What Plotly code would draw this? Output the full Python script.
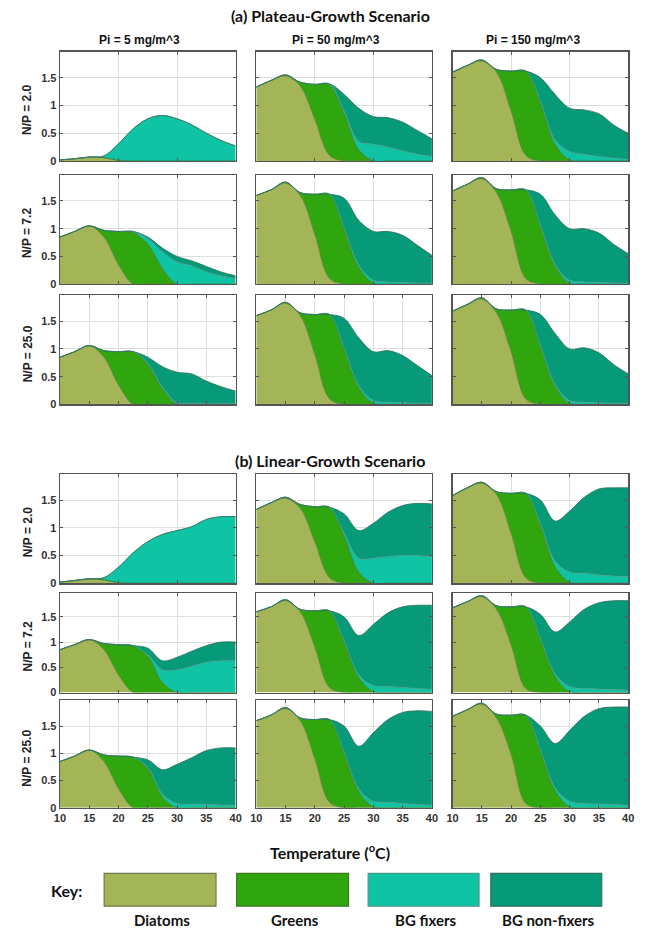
import plotly.graph_objects as go

# ---------------- data ----------------
TEMPERATURE = [10, 12.5, 15, 17.5, 20, 22.5, 25, 27.5, 30, 32.5, 35, 37.5, 40]
PI_LABELS = ["Pi = 5 mg/m^3", "Pi = 50 mg/m^3", "Pi = 150 mg/m^3"]
NP_LABELS = ["N/P = 2.0", "N/P = 7.2", "N/P = 25.0"]
SCENARIOS = ["(a) Plateau-Growth Scenario", "(b) Linear-Growth Scenario"]
SPECIES = ["Diatoms", "Greens", "BG fixers", "BG non-fixers"]
X_TICKS = [10, 15, 20, 25, 30, 35, 40]
Y_TICKS = [0, 0.5, 1, 1.5]
Y_TICK_TEXT = ["0", "0.5", "1", "1.5"]

# panels in order r1c1, r1c2, r1c3, r2c1, ... (rows = N/P, cols = Pi)
A_DIATOMS = [
    [0.02, 0.04, 0.07, 0.06, 0.01, 0, 0, 0, 0, 0, 0, 0, 0],
    [1.33, 1.45, 1.53, 1.35, 0.75, 0.1, 0, 0, 0, 0, 0, 0, 0],
    [1.6, 1.72, 1.8, 1.6, 0.9, 0.1, 0, 0, 0, 0, 0, 0, 0],
    [0.85, 0.95, 1.05, 0.85, 0.35, 0, 0, 0, 0, 0, 0, 0, 0],
    [1.6, 1.7, 1.82, 1.6, 0.9, 0.1, 0, 0, 0, 0, 0, 0, 0],
    [1.68, 1.8, 1.9, 1.65, 0.95, 0.1, 0, 0, 0, 0, 0, 0, 0],
    [0.85, 0.95, 1.06, 0.85, 0.35, 0, 0, 0, 0, 0, 0, 0, 0],
    [1.6, 1.7, 1.82, 1.6, 0.9, 0.1, 0, 0, 0, 0, 0, 0, 0],
    [1.68, 1.8, 1.9, 1.65, 0.95, 0.1, 0, 0, 0, 0, 0, 0, 0],
]
A_GREENS = [
    [0, 0, 0, 0, 0, 0, 0, 0, 0, 0, 0, 0, 0],
    [0, 0, 0.02, 0.07, 0.63, 1.27, 0.85, 0.2, 0, 0, 0, 0, 0],
    [0, 0, 0.02, 0.05, 0.72, 1.52, 1.05, 0.3, 0.02, 0, 0, 0, 0],
    [0, 0, 0, 0.12, 0.6, 0.93, 0.72, 0.28, 0, 0, 0, 0, 0],
    [0, 0, 0.02, 0.05, 0.72, 1.52, 1.0, 0.3, 0.02, 0, 0, 0, 0],
    [0, 0, 0.02, 0.07, 0.75, 1.6, 1.05, 0.32, 0.02, 0, 0, 0, 0],
    [0, 0, 0, 0.12, 0.6, 0.95, 0.72, 0.28, 0, 0, 0, 0, 0],
    [0, 0, 0.02, 0.05, 0.72, 1.52, 1.0, 0.3, 0.02, 0, 0, 0, 0],
    [0, 0, 0.02, 0.07, 0.75, 1.6, 1.05, 0.32, 0.02, 0, 0, 0, 0],
]
A_FIXERS = [
    [0, 0, 0, 0.03, 0.3, 0.58, 0.76, 0.82, 0.76, 0.65, 0.5, 0.37, 0.27],
    [0, 0, 0, 0, 0, 0.02, 0.05, 0.15, 0.3, 0.25, 0.18, 0.12, 0.08],
    [0, 0, 0, 0, 0, 0, 0.03, 0.08, 0.15, 0.12, 0.08, 0.05, 0.03],
    [0, 0, 0, 0, 0, 0.02, 0.1, 0.3, 0.4, 0.33, 0.22, 0.15, 0.1],
    [0, 0, 0, 0, 0, 0, 0.02, 0.04, 0.05, 0.04, 0.03, 0.02, 0.02],
    [0, 0, 0, 0, 0, 0, 0.02, 0.04, 0.05, 0.04, 0.03, 0.02, 0.02],
    [0, 0, 0, 0, 0, 0, 0.02, 0.03, 0.03, 0.02, 0.01, 0.01, 0.01],
    [0, 0, 0, 0, 0, 0, 0.02, 0.04, 0.05, 0.04, 0.03, 0.02, 0.02],
    [0, 0, 0, 0, 0, 0, 0.02, 0.04, 0.05, 0.04, 0.03, 0.02, 0.02],
]
A_NONFIXERS = [
    [0, 0, 0, 0, 0, 0, 0, 0, 0, 0, 0, 0, 0],
    [0, 0, 0, 0, 0, 0, 0.3, 0.6, 0.5, 0.53, 0.52, 0.43, 0.32],
    [0, 0, 0, 0, 0, 0, 0.42, 0.82, 0.78, 0.8, 0.77, 0.6, 0.47],
    [0, 0, 0, 0, 0, 0, 0.03, 0.07, 0.1, 0.09, 0.1, 0.07, 0.05],
    [0, 0, 0, 0, 0, 0, 0.53, 0.81, 0.88, 0.91, 0.85, 0.68, 0.5],
    [0, 0, 0, 0, 0, 0, 0.55, 0.89, 0.93, 0.96, 0.89, 0.7, 0.53],
    [0, 0, 0, 0, 0, 0, 0.11, 0.37, 0.55, 0.53, 0.41, 0.31, 0.23],
    [0, 0, 0, 0, 0, 0, 0.53, 0.86, 0.88, 0.93, 0.85, 0.68, 0.5],
    [0, 0, 0, 0, 0, 0, 0.55, 0.92, 0.93, 0.98, 0.9, 0.7, 0.53],
]

B_DIATOMS = [
    [0.02, 0.05, 0.08, 0.06, 0.01, 0, 0, 0, 0, 0, 0, 0, 0],
    [1.33, 1.45, 1.53, 1.35, 0.75, 0.1, 0, 0, 0, 0, 0, 0, 0],
    [1.58, 1.72, 1.8, 1.6, 0.9, 0.1, 0, 0, 0, 0, 0, 0, 0],
    [0.85, 0.95, 1.05, 0.85, 0.35, 0, 0, 0, 0, 0, 0, 0, 0],
    [1.6, 1.7, 1.82, 1.6, 0.9, 0.1, 0, 0, 0, 0, 0, 0, 0],
    [1.68, 1.8, 1.9, 1.65, 0.95, 0.08, 0, 0, 0, 0, 0, 0, 0],
    [0.85, 0.95, 1.06, 0.85, 0.35, 0, 0, 0, 0, 0, 0, 0, 0],
    [1.6, 1.7, 1.82, 1.6, 0.9, 0.1, 0, 0, 0, 0, 0, 0, 0],
    [1.68, 1.8, 1.9, 1.65, 0.98, 0.08, 0, 0, 0, 0, 0, 0, 0],
]
B_GREENS = [
    [0, 0, 0, 0, 0, 0, 0, 0, 0, 0, 0, 0, 0],
    [0, 0, 0.02, 0.07, 0.63, 1.27, 0.85, 0.2, 0, 0, 0, 0, 0],
    [0, 0, 0.02, 0.05, 0.72, 1.52, 1.05, 0.3, 0.02, 0, 0, 0, 0],
    [0, 0, 0, 0.12, 0.6, 0.93, 0.72, 0.2, 0, 0, 0, 0, 0],
    [0, 0, 0.02, 0.05, 0.72, 1.52, 1.0, 0.3, 0.02, 0, 0, 0, 0],
    [0, 0, 0.02, 0.07, 0.75, 1.62, 1.05, 0.32, 0.02, 0, 0, 0, 0],
    [0, 0, 0, 0.12, 0.6, 0.93, 0.72, 0.2, 0, 0, 0, 0, 0],
    [0, 0, 0.02, 0.05, 0.72, 1.52, 1.0, 0.3, 0.02, 0, 0, 0, 0],
    [0, 0, 0.02, 0.07, 0.72, 1.62, 1.05, 0.32, 0.02, 0, 0, 0, 0],
]
B_FIXERS = [
    [0, 0, 0, 0.04, 0.28, 0.55, 0.75, 0.88, 0.95, 1.02, 1.15, 1.2, 1.2],
    [0, 0, 0, 0, 0, 0, 0.05, 0.25, 0.45, 0.48, 0.5, 0.5, 0.48],
    [0, 0, 0, 0, 0, 0, 0.03, 0.1, 0.18, 0.18, 0.15, 0.13, 0.12],
    [0, 0, 0, 0, 0, 0, 0.03, 0.25, 0.45, 0.52, 0.6, 0.63, 0.63],
    [0, 0, 0, 0, 0, 0, 0.02, 0.05, 0.12, 0.12, 0.1, 0.08, 0.07],
    [0, 0, 0, 0, 0, 0, 0.02, 0.05, 0.1, 0.08, 0.07, 0.06, 0.05],
    [0, 0, 0, 0, 0, 0, 0.02, 0.05, 0.08, 0.07, 0.06, 0.05, 0.05],
    [0, 0, 0, 0, 0, 0, 0.02, 0.05, 0.1, 0.1, 0.08, 0.06, 0.05],
    [0, 0, 0, 0, 0, 0, 0.02, 0.05, 0.1, 0.08, 0.07, 0.06, 0.05],
]
B_NONFIXERS = [
    [0, 0, 0, 0, 0, 0, 0, 0, 0, 0, 0, 0, 0],
    [0, 0, 0, 0, 0, 0, 0.35, 0.5, 0.63, 0.8, 0.9, 0.94, 0.95],
    [0, 0, 0, 0, 0, 0, 0.42, 0.72, 1.1, 1.37, 1.55, 1.59, 1.6],
    [0, 0, 0, 0, 0, 0, 0.13, 0.18, 0.25, 0.3, 0.33, 0.37, 0.37],
    [0, 0, 0, 0, 0, 0, 0.48, 0.78, 1.21, 1.46, 1.6, 1.65, 1.66],
    [0, 0, 0, 0, 0, 0, 0.48, 0.83, 1.28, 1.57, 1.71, 1.76, 1.77],
    [0, 0, 0, 0, 0, 0, 0.14, 0.45, 0.72, 0.85, 0.99, 1.05, 1.05],
    [0, 0, 0, 0, 0, 0, 0.48, 0.78, 1.26, 1.52, 1.67, 1.72, 1.72],
    [0, 0, 0, 0, 0, 0, 0.43, 0.81, 1.3, 1.6, 1.75, 1.79, 1.8],
]

# ---------------- style ----------------
W, H = 646, 938
FILL = ["#a3b557", "#2fa50e", "#0fc3a5", "#069a78"]
EDGE = ["#6e7a48", "#3f7a22", "#4a9a8a", "#2f6e5e"]
COL_PX = [(55, 234), (255, 434), (455, 634)]
ROW_PX = [[(52, 162), (176, 286), (297, 407)],
          [(477, 587), (597, 697), (705, 813)]]
TICK_FONT = dict(family="Liberation Sans", size=11, color="#333333", weight="bold")
GRID = "#dedede"


def px_x(p):
    return p / W


def px_y(p):
    return 1 - p / H


fig = go.Figure()
layout_axes = {}
data_sets = [
    [A_DIATOMS, A_GREENS, A_FIXERS, A_NONFIXERS],
    [B_DIATOMS, B_GREENS, B_FIXERS, B_NONFIXERS],
]

k = 0
for s in range(2):
    for r in range(3):
        for c in range(3):
            k += 1
            idx = r * 3 + c
            xa = "x" if k == 1 else f"x{k}"
            ya = "y" if k == 1 else f"y{k}"
            for sp in range(4):
                fig.add_trace(go.Scatter(
                    x=TEMPERATURE, y=data_sets[s][sp][idx],
                    xaxis=xa, yaxis=ya, stackgroup=f"g{k}",
                    mode="lines", name=SPECIES[sp], showlegend=False,
                    line=dict(color=EDGE[sp], width=0.8, shape="spline", smoothing=1.0),
                    fillcolor=FILL[sp], hoverinfo="skip",
                ))
            x0, x1 = COL_PX[c]
            y0, y1 = ROW_PX[s][r]
            bottom = (s == 1 and r == 2)
            grid_x = X_TICKS if r == 2 else [20, 30]
            xkey = "xaxis" if k == 1 else f"xaxis{k}"
            ykey = "yaxis" if k == 1 else f"yaxis{k}"
            layout_axes[xkey] = dict(
                domain=[px_x(x0), px_x(x1)], anchor=ya, range=[10, 40],
                tickvals=X_TICKS if bottom else grid_x,
                showticklabels=bottom, tickfont=TICK_FONT, ticklabeloverflow="allow",
                showgrid=True, gridcolor=GRID, gridwidth=1, zeroline=False,
                showline=True, mirror="ticks", linecolor="#555555", linewidth=1.3,
                ticks="inside", ticklen=3, tickcolor="#555555",
            )
            layout_axes[ykey] = dict(
                domain=[px_y(y1), px_y(y0)], anchor=xa, range=[0, 1.97],
                tickvals=Y_TICKS, ticktext=Y_TICK_TEXT,
                showticklabels=(c == 0), tickfont=TICK_FONT, ticklabeloverflow="allow",
                showgrid=True, gridcolor=GRID, gridwidth=1, zeroline=False,
                showline=True, mirror="ticks", linecolor="#555555", linewidth=1.3,
                ticks="inside", ticklen=3, tickcolor="#555555",
            )

annotations = []
TITLE_FONT = dict(family="Lato", size=16, color="#111111", weight="bold")
annotations.append(dict(text=SCENARIOS[0], x=px_x(331), y=px_y(16), xref="paper", yref="paper",
                        showarrow=False, font=TITLE_FONT, xanchor="center", yanchor="middle"))
annotations.append(dict(text=SCENARIOS[1], x=px_x(330), y=px_y(463), xref="paper", yref="paper",
                        showarrow=False, font=TITLE_FONT, xanchor="center", yanchor="middle"))
for c in range(3):
    cx = (COL_PX[c][0] + COL_PX[c][1]) / 2 - 8
    annotations.append(dict(text=PI_LABELS[c], x=px_x(cx), y=px_y(40), xref="paper", yref="paper",
                            showarrow=False, xanchor="center", yanchor="middle",
                            font=dict(family="Liberation Sans", size=12, color="#111111", weight="bold")))
for s in range(2):
    for r in range(3):
        y0, y1 = ROW_PX[s][r]
        annotations.append(dict(text=NP_LABELS[r], x=px_x(22), y=px_y((y0 + y1) / 2 + 4),
                                xref="paper", yref="paper", showarrow=False, textangle=-90,
                                xanchor="center", yanchor="middle",
                                font=dict(family="Liberation Sans", size=12, color="#222222", weight="bold")))
annotations.append(dict(text="Temperature (<sup>o</sup>C)", x=px_x(330), y=px_y(857), xref="paper",
                        yref="paper", showarrow=False, xanchor="center", yanchor="middle", font=TITLE_FONT))

# key
KEY_BOX_PX = [(100, 214), (235, 349), (369, 482), (494, 607)]
shapes = []
annotations.append(dict(text="Key:", x=px_x(62), y=px_y(896), xref="paper", yref="paper",
                        showarrow=False, xanchor="center", yanchor="middle", font=TITLE_FONT))
for i, (bx0, bx1) in enumerate(KEY_BOX_PX):
    shapes.append(dict(type="rect", xref="paper", yref="paper",
                       x0=px_x(bx0), x1=px_x(bx1), y0=px_y(912), y1=px_y(879),
                       fillcolor=FILL[i], line=dict(color=EDGE[i], width=1.2)))
    annotations.append(dict(text=SPECIES[i], x=px_x((bx0 + bx1) / 2 + 2), y=px_y(926), xref="paper",
                            yref="paper", showarrow=False, xanchor="center", yanchor="middle",
                            font=dict(family="Lato", size=15, color="#111111", weight="bold")))

fig.update_layout(
    width=W, height=H, margin=dict(l=0, r=0, t=0, b=0),
    paper_bgcolor="white", plot_bgcolor="white",
    annotations=annotations, shapes=shapes, showlegend=False,
    hovermode=False,
    **layout_axes,
)
fig.write_html("out.html",
               config={"displayModeBar": False, "staticPlot": True},
               post_script="document.body.style.margin='0px';document.body.style.overflow='hidden';")
